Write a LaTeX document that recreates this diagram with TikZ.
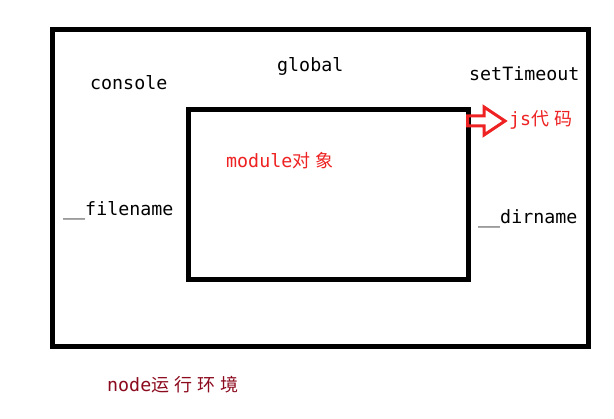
\documentclass[tikz,border=0pt]{standalone}
\usepackage{fontspec}
\setmonofont{DejaVu Sans Mono}
\newfontfamily\cjkfont[LetterSpace=28]{Noto Sans CJK SC}
\definecolor{lbred}{RGB}{238,34,34}
\definecolor{envred}{RGB}{140,10,30}
\tikzset{
  lbl/.style={anchor=base west, inner sep=0pt, font=\fontsize{18.3}{20}\ttfamily},
  redlbl/.style={lbl, text=lbred},
  box/.style={draw=black}
}
\newcommand{\zh}[1]{{\cjkfont\fontsize{18}{20}\selectfont #1}}
\begin{document}
\begin{tikzpicture}[x=1pt,y=-1pt]
\useasboundingbox[fill=white] (0,0) rectangle (614,419);
\draw[box, line width=5pt] (52.5,29.5) rectangle (588.5,346.5);
\draw[box, line width=4.5pt] (188.25,109.5) rectangle (468.5,279.5);
\node[lbl] (console) at (90,90) {console};
\node[lbl] (global) at (277,72) {global};
\node[lbl] (settimeout) at (469,81) {setTimeout};
\node[lbl] (filename) at (63,216) {\_\_filename};
\node[lbl] (dirname) at (478,224) {\_\_dirname};
\node[redlbl] (module) at (226,168) {module\zh{对象}};
\node[redlbl] (js) at (509,126) {js\zh{代码}};
\node[lbl, text=envred] (env) at (107,392) {node\zh{运行环境}};
\draw[lbred, line width=3pt, line join=miter]
  (467.5,116) -- (484,116) -- (484,107) -- (505,121) -- (484,135) -- (484,126) -- (467.5,126) -- cycle;
\end{tikzpicture}
\end{document}
